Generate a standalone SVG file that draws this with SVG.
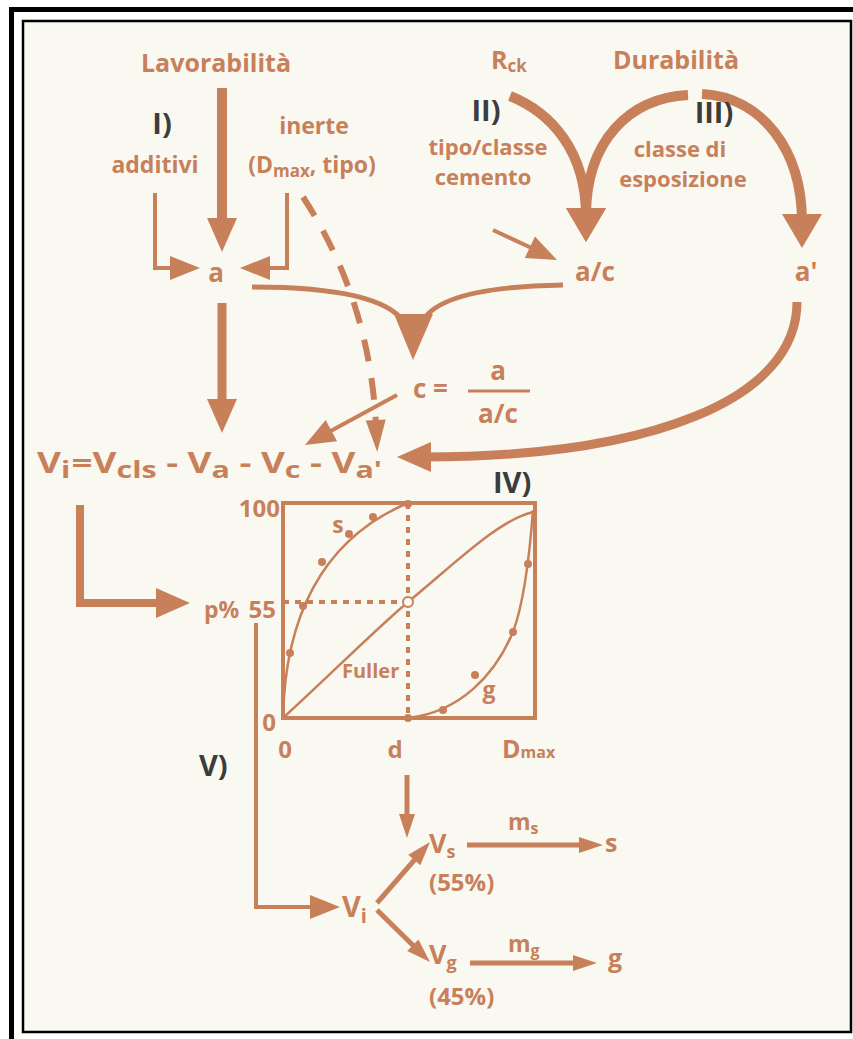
<svg xmlns="http://www.w3.org/2000/svg" width="853" height="1039" viewBox="0 0 853 1039">
<style>
.t{font-family:"Open Sans","Liberation Sans",sans-serif;font-weight:700;fill:#c8805a}
.r{font-family:"Open Sans","Liberation Sans",sans-serif;font-weight:700;fill:#3c3c3c;font-size:29px}
.ln{fill:none;stroke:#c8805a;stroke-linejoin:miter}
.th{stroke-width:10}
.md{stroke-width:5}
.tn{stroke-width:4}
</style>
<defs>
<marker id="mBig" markerUnits="userSpaceOnUse" markerWidth="40" markerHeight="40" refX="8" refY="15" orient="auto" overflow="visible"><path d="M0,0 L34,15 L0,30 z" fill="#c8805a"/></marker>
<marker id="mArc" markerUnits="userSpaceOnUse" markerWidth="40" markerHeight="44" refX="8" refY="20" orient="auto" overflow="visible"><path d="M0,0 L34,20 L0,40 z" fill="#c8805a"/></marker>
<marker id="mMed" markerUnits="userSpaceOnUse" markerWidth="34" markerHeight="28" refX="6" refY="12" orient="auto" overflow="visible"><path d="M0,0 L30,12 L0,24 z" fill="#c8805a"/></marker>
<marker id="mSmall" markerUnits="userSpaceOnUse" markerWidth="28" markerHeight="20" refX="4" refY="8" orient="auto" overflow="visible"><path d="M0,0 L24,8 L0,16 z" fill="#c8805a"/></marker>
<marker id="mDash" markerUnits="userSpaceOnUse" markerWidth="36" markerHeight="24" refX="6" refY="10" orient="auto" overflow="visible"><path d="M0,0 L32,10 L0,20 z" fill="#c8805a"/></marker>
</defs>

<g id="frame">
<rect x="9" y="7" width="844" height="5" fill="#000"/>
<rect x="9" y="7" width="5" height="1032" fill="#000"/>
<rect x="23" y="21" width="828" height="1011" fill="#f9f9f2" stroke="#000" stroke-width="2.5"/>
</g>

<g id="connectors">
<path class="ln th" d="M222,88 V226" marker-end="url(#mBig)"/>
<path class="ln tn" d="M155,193 V268 H176" marker-end="url(#mMed)"/>
<path class="ln tn" d="M287,193 V268 H264" marker-end="url(#mMed)"/>
<path class="ln" stroke-width="6" stroke-dasharray="22 17" d="M303,197 Q370,300 376,426" marker-end="url(#mDash)"/>
<path class="ln md" d="M252,287 Q380,287 404,322"/>
<path class="ln md" d="M563,285 Q440,287 422,322"/>
<polygon points="394,314 433,314 413,360" fill="#c8805a"/>
<path class="ln th" d="M510,96 C550,112 586,150 586,216" marker-end="url(#mArc)"/>
<path class="ln th" d="M688,95 C630,98 586,140 586,216" marker-end="url(#mArc)"/>
<path class="ln th" d="M702,94 C762,97 802,150 802,222" marker-end="url(#mArc)"/>
<path class="ln tn" d="M493,230 L535.3,249.8" marker-end="url(#mMed)"/>
<path class="ln" stroke-width="9" d="M222,303 V407" marker-end="url(#mBig)"/>
<path class="ln tn" d="M397,395 L326.1,433.5" marker-end="url(#mMed)"/>
<path class="ln" stroke-width="9" d="M797,302 C797,400 650,457 423,457" marker-end="url(#mBig)"/>
<path class="ln" stroke-width="8" d="M80,505 V603 H164" marker-end="url(#mBig)"/>
<path class="ln tn" d="M256,623 V907 H316" marker-end="url(#mMed)"/>
<path class="ln md" d="M407,775 V818" marker-end="url(#mSmall)"/>
<path class="ln md" d="M377,903 L416.9,857.1" marker-end="url(#mSmall)"/>
<path class="ln md" d="M377,910 L415.7,948" marker-end="url(#mSmall)"/>
<path class="ln md" d="M467,845 H583" marker-end="url(#mSmall)"/>
<path class="ln md" d="M470,963 H577" marker-end="url(#mSmall)"/>
</g>

<g id="lavorabilita"><text class="t" x="216" y="72" font-size="25" text-anchor="middle">Lavorabilità</text></g>
<g id="step1"><text class="r" x="162" y="134" text-anchor="middle">I)</text></g>
<g id="additivi"><text class="t" x="155" y="173" font-size="23" text-anchor="middle">additivi</text></g>
<g id="inerte"><text class="t" x="314" y="134" font-size="23" text-anchor="middle">inerte</text>
<text class="t" x="312" y="173" font-size="23" text-anchor="middle">(D<tspan font-size="17" dy="4">max</tspan><tspan dy="-4">, tipo)</tspan></text></g>
<g id="a"><text class="t" x="216" y="282" font-size="26" text-anchor="middle">a</text></g>
<g id="rck"><text class="t" x="491" y="69" font-size="25">R<tspan font-size="17" dy="3">ck</tspan></text></g>
<g id="durabilita"><text class="t" x="676" y="69" font-size="25" text-anchor="middle">Durabilità</text></g>
<g id="step2"><text class="r" x="486" y="121" text-anchor="middle">II)</text></g>
<g id="step3"><text class="r" x="714" y="123" text-anchor="middle">III)</text></g>
<g id="cemento"><text class="t" x="488" y="155" font-size="22" text-anchor="middle">tipo/classe</text>
<text class="t" x="483" y="185" font-size="22" text-anchor="middle">cemento</text></g>
<g id="esposizione"><text class="t" x="680" y="157" font-size="22" text-anchor="middle">classe di</text>
<text class="t" x="683" y="187" font-size="22" text-anchor="middle">esposizione</text></g>
<g id="ac"><text class="t" x="595" y="281" font-size="26" text-anchor="middle">a/c</text></g>
<g id="aprime"><text class="t" x="806" y="281" font-size="26" text-anchor="middle">a'</text></g>
<g id="c">
<text class="t" x="413" y="398" font-size="26">c =</text>
<text class="t" x="498" y="380" font-size="26" text-anchor="middle">a</text>
<line x1="468" y1="391" x2="530" y2="391" stroke="#c8805a" stroke-width="3"/>
<text class="t" x="498" y="423" font-size="26" text-anchor="middle">a/c</text>
</g>
<g id="formula" transform="translate(37,473) scale(1.27,1)"><text class="t" font-size="29" x="0" y="0">V<tspan font-size="24" dy="5">i</tspan><tspan dy="-5" dx="1">=</tspan>V<tspan font-size="24" dy="5">cls</tspan><tspan dy="-5"> - V</tspan><tspan font-size="24" dy="5">a</tspan><tspan dy="-5"> - V</tspan><tspan font-size="24" dy="5">c</tspan><tspan dy="-5"> - V</tspan><tspan font-size="24" dy="5">a'</tspan></text></g>
<g id="step4"><text class="r" x="493" y="493">IV)</text></g>

<g id="chart">
<rect x="283" y="503" width="252" height="215" fill="none" stroke="#c8805a" stroke-width="4"/>
<path class="ln" stroke-width="4" stroke-dasharray="6 6" d="M408,503 V718 M283,602 H403"/>
<path class="ln" stroke-width="2.5" d="M283,718 C330,675 375,630 408,602 C450,568 500,518 534,512"/>
<path class="ln" stroke-width="2.5" d="M283,718 C285,620 320,540 408,503"/>
<path class="ln" stroke-width="2.5" d="M408,718 C460,712 495,675 513,632 C525,600 530,550 533,510"/>
<g fill="#c8805a">
<circle cx="290" cy="653" r="4"/><circle cx="303" cy="606" r="4"/><circle cx="322" cy="562" r="4"/><circle cx="349" cy="534" r="4"/><circle cx="373" cy="517" r="4"/><circle cx="408" cy="504" r="4"/>
<circle cx="408" cy="718" r="4"/><circle cx="443" cy="710" r="4"/><circle cx="475" cy="675" r="4"/><circle cx="513" cy="632" r="4"/><circle cx="528" cy="564" r="4"/>
</g>
<circle cx="408" cy="602" r="5" fill="#f9f9f2" stroke="#c8805a" stroke-width="2"/>
<text class="t" x="280" y="517" font-size="24" text-anchor="end">100</text>
<text class="t" x="276" y="618" font-size="24" text-anchor="end">55</text>
<text class="t" x="276" y="731" font-size="24" text-anchor="end">0</text>
<text class="t" x="285" y="758" font-size="24" text-anchor="middle">0</text>
<text class="t" x="395" y="758" font-size="24" text-anchor="middle">d</text>
<text class="t" x="502" y="758" font-size="25">D<tspan font-size="16">max</tspan></text>
<text class="t" x="338" y="533" font-size="23" text-anchor="middle">s</text>
<text class="t" x="489" y="698" font-size="23" text-anchor="middle">g</text>
<text class="t" x="342" y="678" font-size="20">Fuller</text>
</g>
<g id="p"><text class="t" x="204" y="618" font-size="23">p%</text></g>
<g id="step5"><text class="r" x="199" y="776">V)</text></g>
<g id="vi"><text class="t" x="342" y="917" font-size="29">V<tspan font-size="20" dy="6">i</tspan></text></g>
<g id="vs"><text class="t" x="429" y="853" font-size="27">V<tspan font-size="18" dy="5">s</tspan></text>
<text class="t" x="429" y="891" font-size="24">(55%)</text></g>
<g id="ms"><text class="t" x="508" y="830" font-size="23">m<tspan font-size="16" dy="4">s</tspan></text></g>
<g id="s"><text class="t" x="605" y="852" font-size="25">s</text></g>
<g id="vg"><text class="t" x="429" y="964" font-size="27">V<tspan font-size="18" dy="5">g</tspan></text>
<text class="t" x="429" y="1005" font-size="24">(45%)</text></g>
<g id="mg"><text class="t" x="508" y="952" font-size="23">m<tspan font-size="16" dy="4">g</tspan></text></g>
<g id="g"><text class="t" x="608" y="967" font-size="25">g</text></g>
</svg>
